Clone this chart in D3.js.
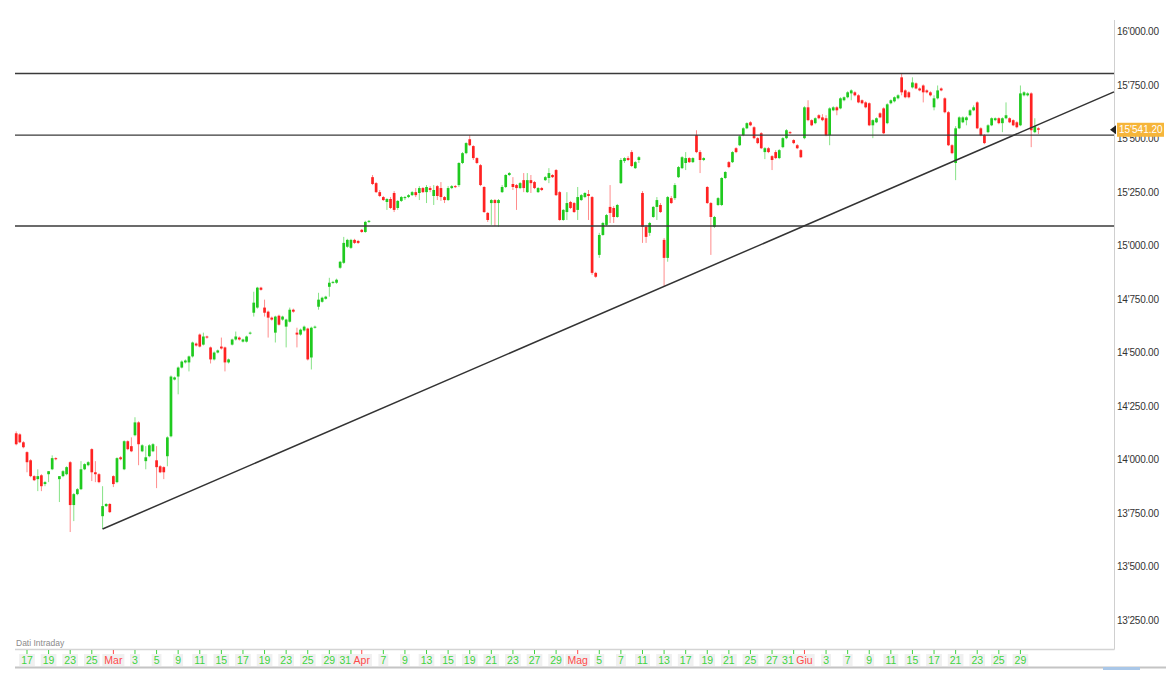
<!DOCTYPE html>
<html><head><meta charset="utf-8">
<script src="https://cdn.jsdelivr.net/npm/d3@7"></script>
<style>
html,body{margin:0;padding:0;background:#fff;}
svg{display:block;}
text{font-family:"Liberation Sans", Arial, sans-serif;}
</style></head><body>
<svg id="chart" width="1171" height="684"></svg>
<script>
// 3 intraday candles per trading day, from 16 Feb to 30 Jun
const openP = [
14124,14119,14082,14036,13998,13924,13910,13928,13887,13933,
13956,14008,13910,13924,13933,13989,13789,13840,13863,13956,
13975,14050,13942,13933,13737,13784,13794,13924,13896,14012,
13956,14087,14064,14115,14175,14040,13994,14017,14040,13998,
13970,13966,14017,14110,14375,14389,14431,14455,14455,14483,
14543,14585,14538,14576,14525,14469,14501,14529,14525,14455,
14538,14562,14571,14552,14552,14590,14687,14711,14804,14711,
14692,14664,14594,14673,14655,14622,14645,14701,14594,14585,
14604,14613,14478,14617,14715,14738,14752,14808,14827,14827,
14897,14920,14995,14990,15027,15022,15074,15064,15111,15320,
15292,15250,15227,15204,15218,15246,15176,15209,15222,15227,
15236,15250,15246,15269,15250,15269,15232,15278,15269,15227,
15213,15269,15278,15283,15386,15432,15497,15465,15409,15376,
15274,15153,15199,15213,15199,15250,15274,15330,15288,15283,
15269,15306,15250,15306,15297,15250,15269,15306,15316,15330,
15353,15250,15120,15157,15204,15199,15167,15213,15227,15241,
15227,14873,14957,15050,15097,15181,15176,15134,15292,15395,
15409,15437,15362,15400,15246,15088,15060,15134,15181,15190,
15027,14943,15222,15222,15320,15362,15386,15409,15390,15516,
15437,15400,15274,15199,15088,15190,15190,15316,15390,15390,
15455,15469,15516,15548,15576,15553,15502,15525,15437,15455,
15418,15437,15409,15460,15502,15530,15493,15469,15446,15502,
15646,15586,15572,15609,15599,15595,15516,15632,15646,15641,
15679,15693,15711,15716,15702,15679,15669,15665,15562,15576,
15618,15641,15572,15665,15674,15688,15786,15725,15716,15739,
15758,15734,15748,15725,15716,15646,15688,15734,15688,15623,
15469,15386,15548,15576,15586,15609,15632,15669,15548,15516,
15530,15562,15586,15595,15572,15595,15595,15586,15576,15562,
15702,15702,15711,15530,15548];
const highP = [
14133,14124,14087,14040,14003,13928,13956,13933,13901,13947,
14021,14012,13924,13952,13970,13994,13845,13868,13994,13984,
13994,14054,13994,13938,13877,13798,13798,13928,14012,14017,
14091,14091,14105,14199,14180,14073,14064,14073,14078,14064,
13975,13970,14110,14394,14389,14436,14464,14469,14487,14552,
14548,14590,14594,14580,14529,14506,14515,14571,14529,14473,
14566,14599,14576,14566,14580,14599,14785,14808,14808,14748,
14697,14669,14673,14678,14673,14659,14711,14706,14617,14613,
14627,14617,14622,14627,14780,14762,14766,14850,14836,14846,
14929,15041,15032,15032,15032,15027,15078,15116,15120,15330,
15297,15260,15232,15222,15227,15255,15213,15232,15232,15241,
15255,15269,15278,15274,15283,15278,15283,15283,15297,15232,
15278,15283,15283,15390,15437,15483,15516,15469,15413,15381,
15278,15157,15218,15218,15218,15283,15334,15344,15320,15288,
15297,15339,15339,15330,15302,15274,15274,15325,15362,15334,
15358,15255,15171,15250,15209,15204,15274,15241,15250,15260,
15232,14878,15060,15111,15148,15283,15185,15195,15409,15413,
15418,15446,15395,15418,15255,15097,15111,15185,15227,15199,
15036,15232,15232,15292,15372,15418,15437,15413,15413,15539,
15446,15413,15278,15204,15139,15227,15320,15348,15395,15441,
15460,15516,15553,15576,15581,15558,15507,15530,15460,15460,
15423,15446,15451,15507,15544,15535,15497,15474,15451,15651,
15679,15590,15599,15614,15614,15609,15646,15651,15651,15693,
15697,15721,15730,15721,15707,15683,15674,15669,15590,15599,
15623,15646,15665,15683,15697,15707,15804,15730,15721,15786,
15762,15739,15753,15730,15721,15702,15748,15739,15693,15628,
15474,15558,15604,15604,15604,15637,15655,15674,15553,15521,
15567,15599,15599,15599,15599,15669,15599,15590,15581,15748,
15721,15716,15716,15595,15553];
const lowP = [
14068,14078,14054,13942,13919,13901,13854,13854,13877,13896,
13952,13998,13803,13919,13928,13663,13714,13835,13859,13952,
13970,13901,13896,13891,13677,13780,13752,13873,13891,13998,
13952,14045,14036,14110,13975,14036,13956,14012,14036,13868,
13938,13910,13970,14105,14371,14306,14427,14450,14413,14478,
14529,14525,14534,14566,14450,14464,14497,14515,14413,14450,
14534,14557,14557,14548,14548,14585,14669,14706,14790,14669,
14571,14650,14548,14627,14650,14525,14641,14687,14525,14580,
14599,14464,14422,14613,14701,14734,14748,14762,14822,14822,
14892,14915,14990,14985,15008,15008,15060,15060,15106,15283,
15246,15227,15209,15167,15171,15157,15167,15204,15213,15222,
15232,15227,15213,15246,15199,15250,15190,15213,15209,15199,
15209,15264,15269,15274,15381,15427,15465,15400,15381,15278,
15153,15111,15097,15092,15088,15246,15269,15325,15260,15167,
15264,15250,15246,15246,15264,15246,15255,15302,15292,15316,
15232,15116,15116,15120,15171,15153,15120,15209,15222,15120,
14864,14850,14943,15046,15092,15106,15106,15130,15288,15386,
15395,15367,15358,15386,15013,15013,15046,15130,15120,15153,
14810,14925,15195,15213,15316,15358,15353,15386,15386,15432,
15339,15395,15195,14957,15083,15185,15185,15311,15362,15386,
15432,15465,15511,15544,15558,15497,15474,15451,15404,15432,
15353,15404,15404,15455,15497,15521,15474,15451,15409,15497,
15581,15558,15567,15590,15581,15511,15469,15628,15609,15637,
15674,15688,15679,15697,15665,15660,15641,15558,15502,15572,
15595,15521,15567,15660,15669,15683,15702,15688,15688,15734,
15730,15721,15669,15711,15697,15632,15683,15721,15618,15465,
15427,15306,15544,15572,15562,15604,15628,15544,15511,15474,
15525,15558,15581,15567,15530,15590,15572,15558,15548,15558,
15697,15697,15460,15525,15521];
const closeP = [
14073,14082,14059,13989,13924,13905,13924,13877,13896,13947,
14008,14003,13924,13947,13966,13789,13840,13863,13956,13980,
13989,13942,13933,13896,13784,13794,13756,13887,14008,14003,
14087,14050,14040,14175,14073,14068,14012,14068,14073,13966,
13942,13942,14105,14389,14385,14431,14459,14464,14483,14548,
14534,14529,14576,14571,14469,14501,14511,14520,14455,14469,
14562,14576,14562,14562,14576,14594,14734,14804,14794,14687,
14664,14655,14669,14631,14669,14655,14701,14692,14585,14608,
14622,14469,14617,14622,14748,14757,14762,14827,14831,14841,
14925,15013,15027,15027,15013,15013,15064,15111,15116,15288,
15250,15232,15213,15218,15176,15167,15209,15227,15227,15236,
15250,15236,15269,15250,15274,15260,15260,15232,15227,15213,
15269,15278,15274,15386,15432,15479,15469,15409,15386,15283,
15157,15120,15213,15199,15213,15274,15330,15339,15274,15269,
15292,15269,15306,15292,15269,15269,15260,15320,15339,15320,
15236,15120,15167,15199,15176,15157,15227,15236,15246,15232,
14873,14855,15050,15106,15143,15153,15134,15190,15400,15409,
15400,15372,15390,15413,15088,15041,15106,15181,15213,15157,
14943,15227,15199,15283,15367,15413,15409,15390,15409,15437,
15400,15409,15199,15134,15134,15222,15316,15344,15367,15437,
15437,15511,15548,15572,15562,15502,15479,15455,15455,15437,
15400,15409,15446,15502,15539,15525,15479,15455,15413,15646,
15586,15562,15595,15595,15586,15516,15641,15646,15632,15688,
15693,15716,15725,15702,15669,15665,15646,15562,15586,15595,
15599,15525,15660,15679,15693,15702,15716,15693,15693,15762,
15734,15725,15716,15716,15702,15688,15725,15725,15623,15469,
15432,15548,15599,15599,15599,15632,15646,15548,15516,15479,
15562,15595,15595,15572,15595,15609,15576,15562,15553,15711,
15716,15711,15539,15558,15541.2];

const lastPrice = 15541.2;
const candlesPerDay = 3;
// trading-day index (0 = 17 Feb) of each x-axis label
const tickDays = [0,2,4,6,8,10,12,14,16,18,20,22,24,26,28,30,31,33,35,37,39,41,43,45,47,49,51,53,55,57,59,61,63,65,67,69,71,72,74,76,78,80,82,84,86,88,90,92];
const tickLabels = ["17","19","23","25","Mar","3","5","9","11","15","17","19","23","25","29","31","Apr","7","9","13","15","19","21","23","27","29","Mag","5","7","11","13","17","19","21","25","27","31","Giu","3","7","9","11","15","17","21","23","25","29"];
const monthNames = ["Mar","Apr","Mag","Giu"];
const yTicks = [16000,15750,15500,15250,15000,14750,14500,14250,14000,13750,13500,13250];
const levels = [15804, 15516, 15092];
// trendline anchors: [candle index, price]
const trendAnchors = [[24, 13677], [180, 14810]];

const svg = d3.select("#chart");
const L = 15, R = 1114, T = 20, B = 649;

const x = d3.scaleLinear().domain([-1/3, 305]).range([L, R]);
const y = d3.scaleLinear().domain([13250, 16000]).range([620.5, 31.5]);
const fmt = d3.formatLocale({decimal: ".", thousands: "'", grouping: [3], currency: ["", ""]}).format(",.2f");

const n = Math.min(openP.length, highP.length, lowP.length, closeP.length);
const data = d3.range(n).map(i => ({i, o: openP[i], h: highP[i], l: lowP[i], c: closeP[i]}));

// frame
svg.append("line").attr("x1", R + 0.5).attr("x2", R + 0.5).attr("y1", T).attr("y2", B + 0.5)
  .attr("stroke", "#cfcfcf").attr("stroke-width", 1);
svg.append("line").attr("x1", L).attr("x2", R + 0.5).attr("y1", B + 0.5).attr("y2", B + 0.5)
  .attr("stroke", "#d4d4d4").attr("stroke-width", 1.5);
svg.append("line").attr("x1", L).attr("x2", 1166).attr("y1", 667.5).attr("y2", 667.5)
  .attr("stroke", "#c4c4c4").attr("stroke-width", 2);
svg.append("rect").attr("x", 1103).attr("y", 667).attr("width", 37).attr("height", 3).attr("fill", "#a9c7e8");

// y axis labels
svg.append("g").selectAll("text").data(yTicks).join("text")
  .attr("x", R + 3).attr("y", d => y(d)).attr("dy", "0.35em")
  .attr("font-size", 10).attr("fill", "#333").attr("letter-spacing", "-0.2")
  .text(d => fmt(d));

// candles
const g = svg.append("g");
const cw = 2.7;
g.selectAll("line.wick").data(data).join("line").attr("class", "wick")
  .attr("x1", d => x(d.i)).attr("x2", d => x(d.i))
  .attr("y1", d => y(d.h)).attr("y2", d => y(d.l))
  .attr("stroke", d => d.c >= d.o ? "#86e286" : "#ff8c8c").attr("stroke-width", 1);
g.selectAll("rect.body").data(data).join("rect").attr("class", "body")
  .attr("x", d => x(d.i) - cw / 2).attr("width", cw)
  .attr("y", d => y(Math.max(d.o, d.c)))
  .attr("height", d => Math.max(1, Math.abs(y(d.o) - y(d.c))))
  .attr("fill", d => d.c >= d.o ? "#1fca1f" : "#ff2222");

// horizontal levels
svg.append("g").selectAll("line").data(levels).join("line")
  .attr("x1", L).attr("x2", R).attr("y1", d => y(d)).attr("y2", d => y(d))
  .attr("stroke", "#3a3a3a").attr("stroke-width", 1.3);

// trendline
const slope = (trendAnchors[1][1] - trendAnchors[0][1]) / (trendAnchors[1][0] - trendAnchors[0][0]);
const endIdx = x.domain()[1];
svg.append("line")
  .attr("x1", x(trendAnchors[0][0])).attr("y1", y(trendAnchors[0][1]))
  .attr("x2", x(endIdx)).attr("y2", y(trendAnchors[0][1] + slope * (endIdx - trendAnchors[0][0])))
  .attr("stroke", "#333").attr("stroke-width", 1.5);

// last price tag
const ly = y(lastPrice);
svg.append("path").attr("d", `M${R - 4},${ly} L${R + 2},${ly - 4.5} L${R + 2},${ly + 4.5} Z`).attr("fill", "#222");
svg.append("rect").attr("x", R + 3).attr("y", ly - 7).attr("width", 47).attr("height", 14).attr("fill", "#f6b53a");
svg.append("text").attr("x", R + 5).attr("y", ly).attr("dy", "0.35em").attr("font-size", 10)
  .attr("fill", "#fff").text(fmt(lastPrice));

// x axis ticks and labels
const xt = svg.append("g");
const monthLeft = {};
// measure month labels first so the day label just before them can sit flush to their left
tickDays.forEach((dIdx, j) => {
  const label = tickLabels[j];
  if (monthNames.includes(label)) {
    const tmp = xt.append("text").attr("font-size", 10.5).text(label);
    monthLeft[j] = x(candlesPerDay * (dIdx + 1)) - tmp.node().getComputedTextLength() / 2 - 2;
    tmp.remove();
  }
});
tickDays.forEach((dIdx, j) => {
  const label = tickLabels[j];
  const isMonth = monthNames.includes(label);
  const cx = x(candlesPerDay * (dIdx + 1));
  const col = isMonth ? "#ff4a4a" : "#3fd43f";
  const grp = xt.append("g");
  grp.append("line").attr("x1", cx).attr("x2", cx).attr("y1", B + 1).attr("y2", B + 5)
    .attr("stroke", col).attr("stroke-width", 1);
  const bg = grp.append("rect").attr("fill", "#f0f0f0");
  const t = grp.append("text").attr("y", 664).attr("font-size", 10.5).attr("fill", col).text(label);
  const w = t.node().getComputedTextLength();
  let left = cx - w / 2;
  if (monthLeft[j + 1] !== undefined && left + w > monthLeft[j + 1] - 0.5) {
    left = monthLeft[j + 1] - 0.5 - w;
  }
  t.attr("x", left);
  bg.attr("x", left - 2).attr("y", 654).attr("width", w + 4).attr("height", 12);
});

svg.append("text").attr("x", 16).attr("y", 646).attr("font-size", 8.5).attr("fill", "#8a8a8a").text("Dati Intraday");
</script>
</body></html>
